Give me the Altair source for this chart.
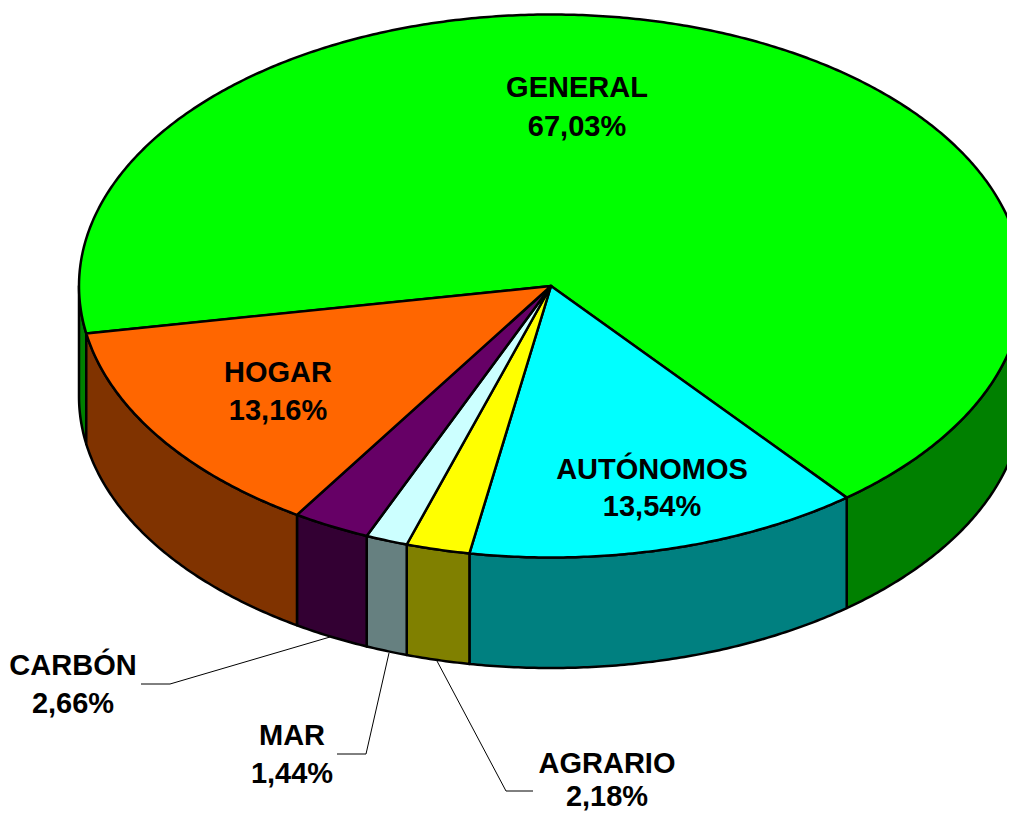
import numpy as np
import altair as alt

names = ["GENERAL", "AUTÓNOMOS", "AGRARIO", "MAR", "CARBÓN", "HOGAR"]
shares = [67.03, 13.54, 2.18, 1.44, 2.66, 13.16]
share_labels = ["67,03%", "13,54%", "2,18%", "1,44%", "2,66%", "13,16%"]
top_colors = ["#00ff00", "#00ffff", "#ffff00", "#ccffff", "#660066", "#ff6600"]
side_colors = ["#008000", "#008080", "#808000", "#668080", "#330033", "#803300"]

# layout of the tilted pie, in page pixels of the picture
CX, CY, RX, RY, DEPTH = 551.0, 286.0, 472.0, 271.5, 110.5
START = 169.9  # angle, clockwise from east, where GENERAL begins
LABEL_NAME_POS = [(577, 88), (652, 470), (607, 764), (292, 736), (73, 666), (278, 373)]
LABEL_GAPS = [39, 37, 33, 38, 38, 38]
LEADERS = {
    "CARBÓN": [(330, 637), (170, 684), (141, 684)],
    "MAR": [(389, 653), (366, 754), (337, 754)],
    "AGRARIO": [(437, 661), (506, 791), (533, 791)],
}


def arc(a, b, dy=0.0):
    n = max(2, int(abs(b - a) * 2) + 2)
    t = np.radians(np.linspace(a, b, n))
    return [[float(CX + RX * np.cos(v)), float(CY + dy + RY * np.sin(v))] for v in t]


def feature(kind, coords, color="none"):
    return {
        "type": "Feature",
        "properties": {"color": color},
        "geometry": {"type": kind, "coordinates": coords},
    }


# slice angles: GENERAL runs clockwise over the back, the rest follow
spans = []
a = START
for s in shares:
    b = a + s * 3.6
    spans.append((a, b))
    a = b

walls, tops = [], []
for (a, b), top, side in zip(spans, top_colors, side_colors):
    # the near half of the rim is what can be seen (0..180 and 360..540)
    for lo, hi in ((0, 180), (360, 540)):
        p, q = max(a, lo), min(b, hi)
        if p < q:
            ring = arc(p, q) + arc(q, p, DEPTH)
            ring.append(ring[0])
            walls.append(feature("Polygon", [ring], side))
    ring = [[CX, CY]] + arc(a, b) + [[CX, CY]]
    tops.append(feature("Polygon", [ring], top))

leaders = [feature("LineString", [list(p) for p in pts]) for pts in LEADERS.values()]

label_rows = []
for n, l, (x, y), g in zip(names, share_labels, LABEL_NAME_POS, LABEL_GAPS):
    label_rows.append({"t": n, "lon": x, "lat": y})
    label_rows.append({"t": l, "lon": x, "lat": y + g})

proj = alt.Projection(type="identity", scale=1, translate=[-8, -8])


def geo(features):
    return alt.InlineData(
        values={"type": "FeatureCollection", "features": features},
        format=alt.DataFormat(property="features", type="json"),
    )


faces = (
    alt.Chart(geo(walls + tops))
    .mark_geoshape(stroke="#000000", strokeWidth=2.5, strokeJoin="round", clip=True)
    .encode(fill=alt.Fill("properties.color:N", scale=None, legend=None))
)
lines = (
    alt.Chart(geo(leaders))
    .mark_geoshape(filled=False, stroke="#000000", strokeWidth=1)
)
texts = (
    alt.Chart(alt.Data(values=label_rows))
    .mark_text(
        font="Liberation Sans",
        fontWeight="bold",
        fontSize=29,
        color="#000000",
        align="center",
        baseline="middle",
    )
    .encode(longitude="lon:Q", latitude="lat:Q", text="t:N")
)

chart = (
    alt.layer(faces, lines, texts)
    .properties(width=999, height=806, padding=0, projection=proj, autosize=alt.AutoSizeParams(type="none"))
    .configure_view(stroke=None)
)
chart.save("out.html", embed_options={"renderer": "svg", "actions": False})
